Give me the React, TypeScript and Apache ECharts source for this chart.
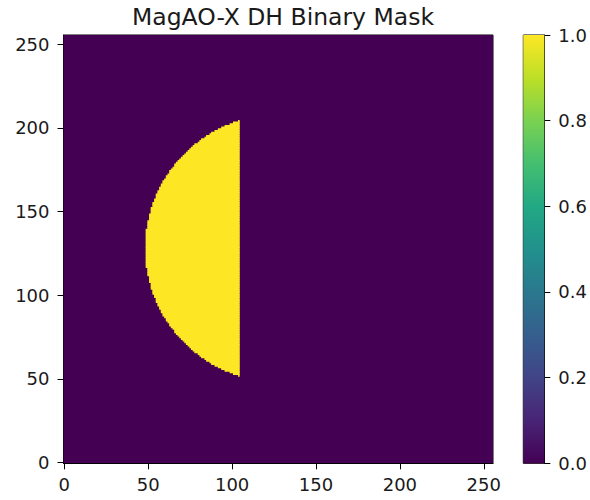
import React, { useEffect, useRef } from "react";
import * as echarts from "echarts";

// ---- data ----
const TITLE = "MagAO-X DH Binary Mask";
const GRID_SIZE = 256; // image is 256 x 256 pixels
const X_TICKS = [0, 50, 100, 150, 200, 250];
const Y_TICKS = [0, 50, 100, 150, 200, 250];
const CB_TICKS = [0.0, 0.2, 0.4, 0.6, 0.8, 1.0];

// binary mask: rows MASK_ROW_START.. have value 1 from MASK_LEFT_EDGE[i] to MASK_RIGHT_EDGE (inclusive), 0 elsewhere
const MASK_ROW_START = 52;
const MASK_RIGHT_EDGE = 104;
const MASK_LEFT_EDGE = [
  104, 101, 99, 96, 94, 92, 90, 88, 87, 85, 84, 82, 81, 80, 78, 77, 76, 75, 74, 73,
  72, 71, 70, 69, 68, 67, 66, 66, 65, 64, 63, 63, 62, 61, 61, 60, 59, 59, 58, 58,
  57, 57, 56, 56, 55, 55, 55, 54, 54, 53, 53, 53, 52, 52, 52, 52, 51, 51, 51, 51,
  50, 50, 50, 50, 50, 49, 49, 49, 49, 49, 49, 49, 49, 49, 49, 49, 49,
  49, 49, 49, 49, 49, 49, 49, 49, 49, 49, 49,
  50, 50, 50, 50, 50, 51, 51, 51, 51, 52, 52, 52, 52, 53, 53, 53, 54, 54, 55, 55,
  55, 56, 56, 57, 57, 58, 58, 59, 59, 60, 61, 61, 62, 63, 63, 64, 65, 66, 66, 67,
  68, 69, 70, 71, 72, 73, 74, 75, 76, 77, 78, 80, 81, 82, 84, 85, 87, 88, 90, 92,
  94, 96, 99, 101, 104,
];

// viridis colormap stops
const VIRIDIS = [
  "#440154", "#482475", "#414487", "#355f8d", "#2a788e", "#21918c",
  "#22a884", "#44bf70", "#7ad151", "#bddf26", "#fde725",
];

const FONT = "DejaVu Sans";
const TXT = "#1a1a1a";

export default function App() {
  const ref = useRef<HTMLDivElement>(null);

  useEffect(() => {
    document.body.style.margin = "0";
    if (!ref.current) return;
    const chart = echarts.init(ref.current, undefined, { renderer: "svg" });

    // cells: [xStart, xEnd, yStart, yEnd, value]
    const cells: number[][] = [[0, GRID_SIZE - 1, 0, GRID_SIZE - 1, 0]];
    MASK_LEFT_EDGE.forEach((xl, i) => {
      const y = MASK_ROW_START + i;
      cells.push([xl, MASK_RIGHT_EDGE, y, y, 1]);
    });

    const axisCommon = {
      axisLine: { show: true, onZero: false, lineStyle: { color: "#000", width: 1 } },
      splitLine: { show: false },
    };

    const option: any = {
      animation: false,
      backgroundColor: "#fff",
      title: {
        text: TITLE,
        left: 278,
        top: 0,
        textAlign: "center",
        textStyle: { fontFamily: FONT, fontSize: 23.5, fontWeight: "normal", color: TXT },
      },
      grid: [
        { left: 63.5, top: 35, width: 429.5, height: 428.3, show: true, borderColor: "#000", borderWidth: 1, backgroundColor: "transparent" },
        { left: 523.3, top: 35, width: 23.4, height: 428.3, show: true, borderColor: "#000", borderWidth: 1, backgroundColor: "transparent" },
      ],
      xAxis: [
        {
          type: "value",
          gridIndex: 0,
          min: -0.5,
          max: GRID_SIZE - 0.5,
          ...axisCommon,
          axisTick: { show: true, length: 6, customValues: X_TICKS, lineStyle: { color: "#000" } },
          axisLabel: { customValues: X_TICKS, margin: 12, fontFamily: FONT, fontSize: 18, color: TXT },
        },
        { type: "value", gridIndex: 1, min: 0, max: 1, show: false },
      ],
      yAxis: [
        {
          type: "value",
          gridIndex: 0,
          min: -0.5,
          max: GRID_SIZE - 0.5,
          ...axisCommon,
          axisTick: { show: true, length: 6, customValues: Y_TICKS, lineStyle: { color: "#000" } },
          axisLabel: { customValues: Y_TICKS, margin: 14, fontFamily: FONT, fontSize: 18, color: TXT },
        },
        {
          type: "value",
          gridIndex: 1,
          position: "right",
          min: 0,
          max: 1,
          ...axisCommon,
          axisTick: { show: true, length: 6, customValues: CB_TICKS, lineStyle: { color: "#000" } },
          axisLabel: {
            customValues: CB_TICKS,
            margin: 14,
            fontFamily: FONT,
            fontSize: 18,
            color: TXT,
            formatter: (v: number) => v.toFixed(1),
          },
        },
      ],
      visualMap: {
        type: "continuous",
        show: false,
        min: 0,
        max: 1,
        dimension: 4,
        seriesIndex: 0,
        inRange: { color: VIRIDIS },
      },
      series: [
        {
          type: "custom",
          xAxisIndex: 0,
          yAxisIndex: 0,
          clip: true,
          encode: { x: [0, 1], y: [2, 3] },
          data: cells,
          renderItem: (params: any, api: any) => {
            const x0 = api.value(0), x1 = api.value(1), y0 = api.value(2), y1 = api.value(3);
            const p0 = api.coord([x0 - 0.5, y1 + 0.5]);
            const p1 = api.coord([x1 + 0.5, y0 - 0.5]);
            const pad = api.value(4) > 0 ? 0.4 : 0;
            return {
              type: "rect",
              shape: { x: p0[0], y: p0[1] - pad, width: p1[0] - p0[0], height: p1[1] - p0[1] + 2 * pad },
              style: { fill: api.visual("color") },
            };
          },
        },
        {
          type: "custom",
          xAxisIndex: 1,
          yAxisIndex: 1,
          data: [[0, 1, 0, 1]],
          renderItem: (params: any, api: any) => {
            const p0 = api.coord([api.value(0), api.value(3)]);
            const p1 = api.coord([api.value(1), api.value(2)]);
            return {
              type: "rect",
              shape: { x: p0[0], y: p0[1], width: p1[0] - p0[0], height: p1[1] - p0[1] },
              style: {
                fill: new echarts.graphic.LinearGradient(
                  0, 1, 0, 0,
                  VIRIDIS.map((c, i) => ({ offset: i / (VIRIDIS.length - 1), color: c }))
                ),
              },
            };
          },
        },
      ],
    };

    chart.setOption(option);
    return () => chart.dispose();
  }, []);

  return <div ref={ref} style={{ width: 590, height: 500 }} />;
}
